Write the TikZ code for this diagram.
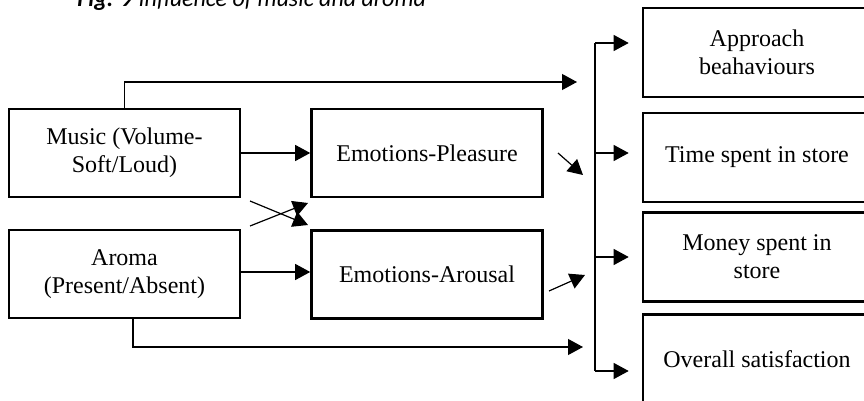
\documentclass[tikz,border=0pt]{standalone}
\usepackage{fontspec}
\setmainfont{Liberation Serif}
\newfontfamily\capfont{Carlito}
\usepackage{tikz}
\usetikzlibrary{arrows.meta,calc}
\tikzset{>={Triangle[length=7.5pt,width=8pt]}}

\begin{document}
\begin{tikzpicture}[x=0.5pt,y=-0.5pt,
                          box/.style={draw, line width=1.3pt, align=center, inner sep=0pt,
                                      font=\fontsize{12}{14}\selectfont},
                          leftbox/.style={box, minimum width=115.5pt, minimum height=44pt},
                          rightbox/.style={box, minimum width=114pt, minimum height=44.5pt},
                          link/.style={line width=0.6pt, black},
                         ]

\useasboundingbox (0,0) rectangle (864,401);

\node[font=\capfont\fontsize{12}{14}\selectfont, anchor=base west, inner sep=0pt] (caption) at (77,7)
     {\textbf{\textit{Fig. 9}} \textit{Influence of music and aroma}};

\node[leftbox] (music) at (124.5,153) {Music (Volume-\\Soft/Loud)};
\node[leftbox] (aroma) at (124.5,274) {Aroma\\(Present/Absent)};
\node[leftbox] (pleasure) at (427,153) {Emotions-Pleasure};
\node[leftbox] (arousal) at (427,274.5) {Emotions-Arousal};

\node[rightbox] (approach) at (757,52.5) {Approach\\beahaviours};
\node[rightbox] (time) at (757,157.5) {Time spent in store};
\node[rightbox] (money) at (757,257) {Money spent in\\store};
\node[rightbox] (overall) at (757,359) {Overall satisfaction};

\draw[link,->] (music) -- (pleasure);
\draw[link,->] (aroma.east |- 0,272) -- (arousal.west |- 0,272);

\coordinate (topend) at (577,82);
\coordinate (botend) at (583,347);
\draw[link,->] (music.north) |- (topend);
\draw[link,->] ($(aroma.south)+(8.5,0)$) |- (botend);

% crossing arrows
\coordinate (xa) at (250,201);
\coordinate (xb) at (250,226);
\coordinate (xa-end) at (308,225);
\coordinate (xb-end) at (308,203);
\draw[link,->] (xa) -- (xa-end);
\draw[link,->] (xb) -- (xb-end);

\coordinate (pl) at (558,153);
\coordinate (pl-end) at (583,175);
\coordinate (ar) at (549,291);
\coordinate (ar-end) at (585,275);
\draw[link,->] (pl) -- (pl-end);
\draw[link,->] (ar) -- (ar-end);

% bus to outcomes
\coordinate (bustop) at (595,43);
\coordinate (busbot) at (595,371);
\draw[link] (bustop) -- (busbot);
\foreach \n/\y in {approach/43,time/153,money/257,overall/371}{
  \coordinate (b-\n) at (595,\y);
  \draw[link,->] (b-\n) -- ($(b-\n -| \n.west)+(-13,0)$);
}

\end{tikzpicture}
\end{document}
